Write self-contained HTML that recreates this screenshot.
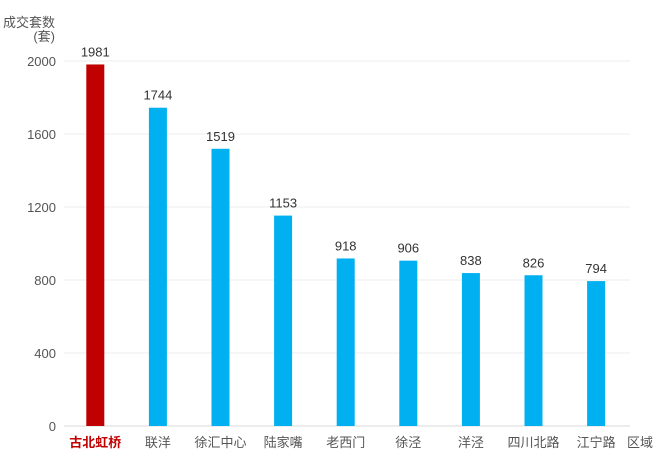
<!DOCTYPE html>
<html><head><meta charset="utf-8"><style>
body{margin:0;background:#fff;}
svg text{font-family:"Liberation Sans","Noto Sans CJK SC",sans-serif;}
</style></head><body>
<svg id="c" width="660" height="466"></svg>
<script>
const categories=["古北虹桥","联洋","徐汇中心","陆家嘴","老西门","徐泾","洋泾","四川北路","江宁路"];
const values=[1981,1744,1519,1153,918,906,838,826,794];
const ticks=[0,400,800,1200,1600,2000];
const svg=document.getElementById('c');
const NS='http://www.w3.org/2000/svg';
const x0=64,band=62.6,bw=18,y0=426,ppu=(426-61)/2000;
const y=v=>y0-v*ppu;
const xc=i=>x0+band*(i+0.5);
function mk(t,a,txt){const e=document.createElementNS(NS,t);for(const k in a)e.setAttribute(k,a[k]);if(txt!=null)e.textContent=txt;svg.appendChild(e);return e;}
let e;
e=mk('text',{x:55,y:27,'text-anchor':'end','font-size':13,fill:'#555'},'成交套数');


e=mk('text',{x:55,y:41,'text-anchor':'end','font-size':13,fill:'#555'},'(套)');


ticks.forEach(t=>{
 e=mk('line',{x1:x0,x2:630,y1:y(t),y2:y(t),stroke:t===0?'#d9d9d9':'#ececec','stroke-width':1});
 
 
 e=mk('text',{x:56,y:y(t)+5,'text-anchor':'end','font-size':13,fill:'#555'},String(t));
 
 
});
categories.forEach((c,i)=>{
 const v=values[i];
 e=mk('rect',{x:xc(i)-bw/2,y:y(v),width:bw,height:y0-y(v),fill:i===0?'#c00000':'#00b0f0'});
 
 
 e=mk('text',{x:xc(i),y:y(v)-8,'text-anchor':'middle','font-size':13,fill:'#333'},String(v));
 
 
 e=mk('text',{x:xc(i),y:447,'text-anchor':'middle','font-size':13,fill:i===0?'#c00000':'#555','font-weight':i===0?'bold':'normal'},c);
 
 
});
e=mk('text',{x:640,y:447,'text-anchor':'middle','font-size':13,fill:'#555'},'区域');


</script>
</body></html>
